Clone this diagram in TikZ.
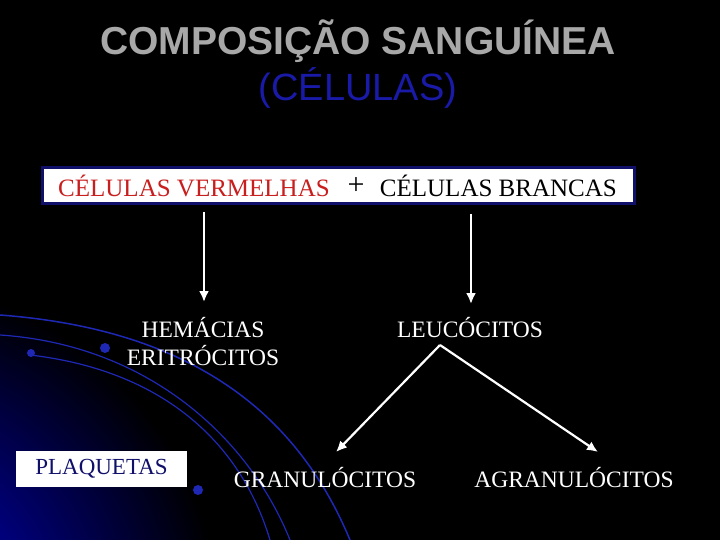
\documentclass[tikz,border=0pt]{standalone}
\usepackage{fontspec}
\setmainfont{Liberation Serif}
\newfontfamily\titlefont{Liberation Sans}
\usetikzlibrary{arrows.meta}
\definecolor{navy}{HTML}{10106A}
\definecolor{ttlgray}{HTML}{A8A8A8}
\definecolor{ttlblue}{HTML}{1A1AA8}
\definecolor{vred}{HTML}{C81E1E}
\definecolor{swoosh}{HTML}{1E28B4}
\begin{document}
\begin{tikzpicture}[x=1pt,y=-1pt,
  lbl/.style={text=white,font=\fontsize{23.5}{28}\selectfont,align=center,inner sep=0pt},
  warrow/.style={white,line width=2.2pt,-{Latex[length=11pt,width=10pt]}},
  ttl/.style={font=\titlefont\bfseries\fontsize{39}{40}\selectfont,inner sep=0pt}]
\useasboundingbox (0,0) rectangle (720,540);
\fill[black] (0,0) rectangle (720,540);
\begin{scope}
\clip (0,0) rectangle (720,540);
\shade[inner color=blue!85!black,outer color=black] (-120,620) circle (340);
\draw[swoosh,line width=1.5pt] (0,315) .. controls (200,330) and (300,420) .. (350,540);
\draw[swoosh,line width=1.2pt] (30,355) .. controls (160,370) and (240,440) .. (270,540);
\draw[swoosh,line width=1.2pt] (0,335) .. controls (150,345) and (250,440) .. (290,540);
\fill[swoosh] (105,348) circle (5);
\fill[swoosh] (31,353) circle (4);
\fill[swoosh] (198,490) circle (5);
\end{scope}
% title
\node[ttl,text=ttlgray] (t1) at (358,41) {COMPOSIÇÃO SANGUÍNEA};
\node[ttl,text=ttlblue,font=\titlefont\fontsize{38}{40}\selectfont] (t2) at (358,88) {(CÉLULAS)};
% box
\draw[navy,fill=white,line width=3pt] (42,168) rectangle (634,204);
\node[inner sep=0pt,anchor=west,text=vred,font=\fontsize{25}{28}\selectfont] (red) at (58,186) {CÉLULAS VERMELHAS};
\node[inner sep=0pt,font=\fontsize{30}{30}\selectfont] (plus) at (356,186) {+};
\node[inner sep=0pt,anchor=east,font=\fontsize{25}{28}\selectfont] (white) at (617,186) {CÉLULAS BRANCAS};
\coordinate (a1) at (204,212);
\coordinate (a2) at (471,214);
\node[lbl] (hem) at (203,342) {HEMÁCIAS\\ERITRÓCITOS};
\node[lbl] (leu) at (470,328) {LEUCÓCITOS};
\node[lbl] (gra) at (325,478) {GRANULÓCITOS};
\node[lbl] (agr) at (574,478) {AGRANULÓCITOS};
\draw[warrow] (a1) -- (204,302);
\draw[warrow] (a2) -- (471,304);
\coordinate (split) at (440,345);
\draw[warrow] (split) -- (336,452);
\draw[warrow] (split) -- (598,452);
\node[fill=white,minimum width=171pt,minimum height=36pt,inner sep=0pt,text=navy,font=\fontsize{23}{26}\selectfont] (plq) at (101.5,469) {PLAQUETAS};
\end{tikzpicture}
\end{document}
